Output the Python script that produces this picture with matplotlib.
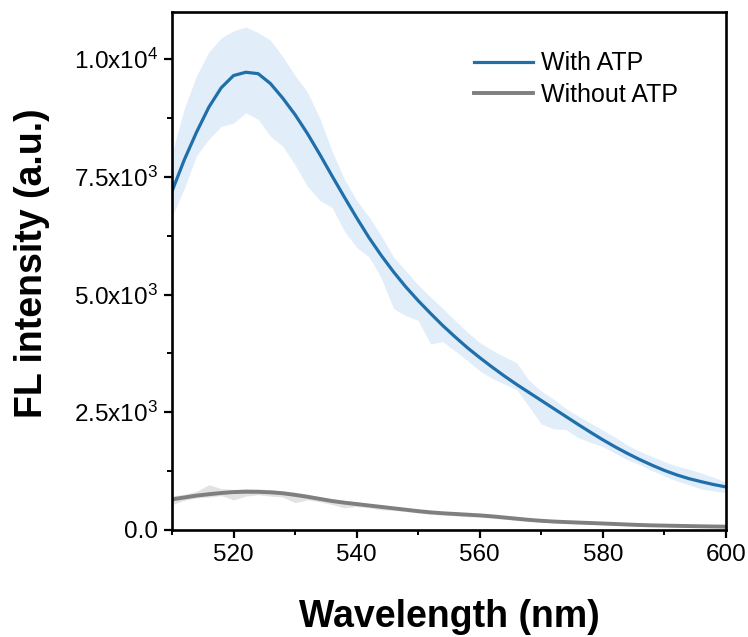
import numpy as np
import matplotlib
matplotlib.use('Agg')
import matplotlib.pyplot as plt
from matplotlib.ticker import FuncFormatter, MultipleLocator

plt.rcParams['font.family'] = ['Liberation Sans', 'DejaVu Sans']
plt.rcParams['mathtext.fontset'] = 'custom'
plt.rcParams['mathtext.rm'] = 'Liberation Sans'
plt.rcParams['mathtext.it'] = 'Liberation Sans'

# wavelength grid (nm)
wavelength = np.arange(510, 601, 2)

# With ATP: mean and shaded band edges
with_atp = [7190, 7860, 8450, 8980, 9390, 9650, 9720, 9690, 9480, 9170,
            8820, 8420, 7980, 7520, 7070, 6630, 6210, 5830, 5480, 5160,
            4870, 4600, 4340, 4100, 3870, 3660, 3460, 3270, 3090, 2920,
            2750, 2580, 2410, 2240, 2075, 1915, 1765, 1625, 1495, 1375,
            1265, 1170, 1090, 1025, 965, 915]
with_hi = [8000, 8950, 9650, 10150, 10450, 10600, 10680, 10560, 10400, 10050,
           9650, 9300, 8750, 8050, 7450, 7000, 6650, 6250, 5800, 5500,
           5200, 4950, 4700, 4450, 4200, 3980, 3820, 3680, 3550, 3180,
           2950, 2780, 2580, 2420, 2270, 2120, 1970, 1800, 1670, 1560,
           1450, 1360, 1290, 1210, 1120, 1020]
with_lo = [6650, 7250, 7950, 8300, 8570, 8640, 8860, 8720, 8360, 8150,
           7750, 7300, 7000, 6850, 6350, 6000, 5800, 5350, 4700, 4550,
           4450, 3950, 4000, 3800, 3600, 3380, 3220, 3100, 2980, 2620,
           2250, 2150, 2130, 1960, 1860, 1770, 1630, 1490, 1390, 1260,
           1150, 1040, 960, 870, 830, 790]

# Without ATP: mean and shaded band edges
without_atp = [650, 690, 730, 760, 785, 805, 812, 810, 800, 780,
               745, 705, 660, 615, 580, 550, 520, 490, 460, 430,
               400, 375, 355, 340, 325, 310, 290, 265, 240, 215,
               195, 180, 168, 158, 148, 138, 127, 116, 106, 98,
               93, 88, 83, 78, 74, 70]
without_hi = [720, 760, 820, 960, 880, 860, 880, 870, 860, 830,
              800, 760, 710, 660, 625, 600, 560, 535, 500, 470,
              440, 410, 390, 370, 355, 340, 325, 295, 270, 245,
              225, 210, 198, 188, 175, 165, 155, 140, 130, 120,
              115, 110, 105, 100, 95, 90]
without_lo = [540, 630, 680, 700, 730, 640, 720, 750, 720, 700,
              580, 640, 600, 540, 470, 500, 470, 430, 420, 390,
              360, 330, 320, 300, 280, 275, 250, 230, 200, 185,
              170, 150, 140, 130, 122, 112, 102, 90, 84, 78,
              73, 68, 63, 58, 54, 50]

fig = plt.figure(figsize=(7.48, 6.37), dpi=100)
ax = fig.add_axes([0.2299, 0.168, 0.7406, 0.8132])

ax.fill_between(wavelength, with_lo, with_hi, color='#e1eefa', lw=0)
ax.fill_between(wavelength, without_lo, without_hi, color='#e2e2e2', lw=0)
ax.plot(wavelength, with_atp, color='#1f6fab', lw=2.3, label='With ATP')
ax.plot(wavelength, without_atp, color='#7f7f7f', lw=2.8, label='Without ATP')

ax.set_xlim(510, 600)
ax.set_ylim(0, 11000)
ax.xaxis.set_major_locator(MultipleLocator(20))
ax.xaxis.set_minor_locator(MultipleLocator(10))
ax.yaxis.set_major_locator(MultipleLocator(2500))
ax.yaxis.set_minor_locator(MultipleLocator(1250))


def sci_fmt(v, pos):
    if v <= 0:
        return '0.0'
    e = int(np.floor(np.log10(v)))
    return r'%.1fx10$^{%d}$' % (v / 10**e, e)


ax.yaxis.set_major_formatter(FuncFormatter(sci_fmt))

for s in ax.spines.values():
    s.set_linewidth(1.9)
ax.tick_params(which='major', length=6, width=1.6, labelsize=17.5, pad=4)
ax.tick_params(which='minor', length=3.5, width=1.4)

ax.set_xlabel('Wavelength (nm)', fontsize=27, fontweight='bold', va='center')
ax.set_ylabel('FL intensity (a.u.)', fontsize=27, fontweight='bold', va='center')
ax.xaxis.set_label_coords(0.5, -0.168)
ax.yaxis.set_label_coords(-0.253, 0.515)

ax.legend(loc='upper left', bbox_to_anchor=(0.523, 0.948), frameon=False,
          fontsize=18, handlelength=2.35, handletextpad=0.32, borderpad=0,
          labelspacing=0.3)

fig.savefig('out.png', dpi=100)
